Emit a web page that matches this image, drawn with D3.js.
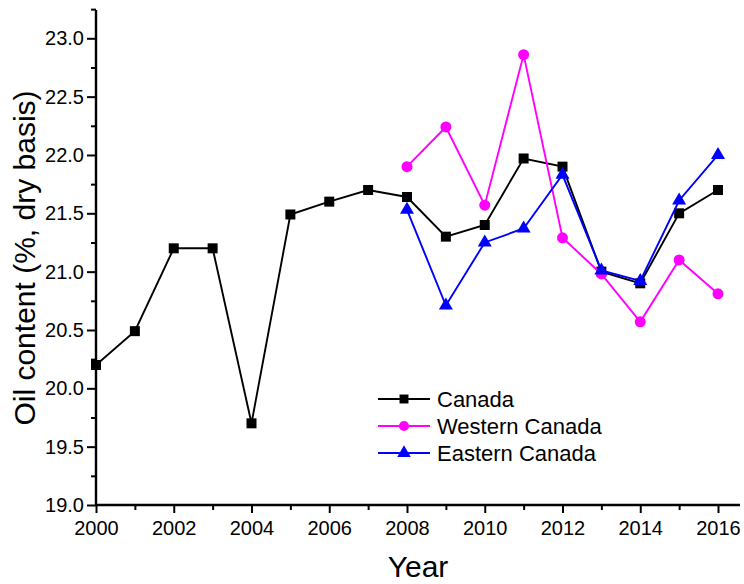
<!DOCTYPE html>
<html>
<head>
<meta charset="utf-8">
<script src="https://cdn.jsdelivr.net/npm/d3@7"></script>
<style>
  html, body { margin: 0; padding: 0; background: #fff; }
  svg { display: block; font-family: "Liberation Sans", Arial, sans-serif; }
</style>
</head>
<body>
<svg id="chart" width="744" height="584"></svg>
<script>
// Oil content by year, three regional series
const years = [2000, 2001, 2002, 2003, 2004, 2005, 2006, 2007, 2008, 2009, 2010, 2011, 2012, 2013, 2014, 2015, 2016];
const canada = [20.2, 20.49, 21.2, 21.2, 19.7, 21.49, 21.6, 21.7, 21.64, 21.3, 21.4, 21.97, 21.9, 21.0, 20.9, 21.5, 21.7];
const westernYears = [2008, 2009, 2010, 2011, 2012, 2013, 2014, 2015, 2016];
const western = [21.9, 22.24, 21.57, 22.86, 21.29, 20.98, 20.57, 21.1, 20.81];
const easternYears = [2008, 2009, 2010, 2011, 2012, 2013, 2014, 2015, 2016];
const eastern = [21.53, 20.71, 21.25, 21.37, 21.83, 21.01, 20.92, 21.61, 22.0];
const xTickLabels = [2000, 2002, 2004, 2006, 2008, 2010, 2012, 2014, 2016];
const yTickLabels = [19.0, 19.5, 20.0, 20.5, 21.0, 21.5, 22.0, 22.5, 23.0];

const svg = d3.select("#chart");
const left = 96, bottom = 505;
const FONT = "Liberation Sans, Arial, sans-serif";

const x = d3.scaleLinear().domain([2000, 2016]).range([left, 718]);
const y = d3.scaleLinear().domain([19, 23]).range([bottom, 38.3]);

// Axes (left & bottom), extended past the last tick
const xEnd = 740, yTop = 10;

const gx = svg.append("g").attr("transform", `translate(0,${bottom})`);
gx.call(d3.axisBottom(x).tickValues(d3.range(2001, 2017, 2)).tickSize(5).tickFormat(""));
gx.call(g => g.select(".domain").remove());
const gxMajor = svg.append("g").attr("transform", `translate(0,${bottom})`)
  .call(d3.axisBottom(x).tickValues(xTickLabels).tickSize(8).tickPadding(8).tickFormat(d3.format("d")));
gxMajor.select(".domain").remove();
gxMajor.selectAll("text").attr("font-size", 20).attr("fill", "#000").attr("font-family", FONT);

const gy = svg.append("g").attr("transform", `translate(${left},0)`);
gy.call(d3.axisLeft(y).tickValues(d3.range(19.25, 23.3, 0.5)).tickSize(5).tickFormat(""));
gy.select(".domain").remove();
const gyMajor = svg.append("g").attr("transform", `translate(${left},0)`)
  .call(d3.axisLeft(y).tickValues(yTickLabels).tickSize(9).tickPadding(3).tickFormat(d3.format(".1f")));
gyMajor.select(".domain").remove();
gyMajor.selectAll("text").attr("font-size", 20).attr("fill", "#000").attr("font-family", FONT);

svg.selectAll(".tick line").attr("stroke", "#000").attr("stroke-width", 2);

svg.append("line").attr("x1", left).attr("x2", xEnd).attr("y1", bottom).attr("y2", bottom)
  .attr("stroke", "#000").attr("stroke-width", 2.4);
svg.append("line").attr("x1", left).attr("x2", left).attr("y1", yTop).attr("y2", bottom)
  .attr("stroke", "#000").attr("stroke-width", 2.4);

// Axis titles
svg.append("text").attr("x", 418).attr("y", 577).attr("text-anchor", "middle")
  .attr("font-size", 30).attr("fill", "#000").text("Year");
svg.append("text").attr("transform", "translate(35,258) rotate(-90)").attr("text-anchor", "middle")
  .attr("font-size", 30).attr("fill", "#000").text("Oil content (%, dry basis)");

// Series
const series = [
  { name: "Canada", xs: years, ys: canada, color: "#000000", shape: d3.symbolSquare, size: 100 },
  { name: "Western Canada", xs: westernYears, ys: western, color: "#ff00ff", shape: d3.symbolCircle, size: 95 },
  { name: "Eastern Canada", xs: easternYears, ys: eastern, color: "#0000ff", shape: d3.symbolTriangle, size: 85 }
];

const line = d3.line().x(d => x(d[0])).y(d => y(d[1]));

series.forEach(s => {
  const pts = s.xs.map((yr, i) => [yr, s.ys[i]]);
  svg.append("path").datum(pts).attr("d", line)
    .attr("fill", "none").attr("stroke", s.color).attr("stroke-width", 1.9);
  svg.append("g").selectAll("path").data(pts).join("path")
    .attr("transform", d => `translate(${x(d[0])},${y(d[1])})`)
    .attr("d", d3.symbol().type(s.shape).size(s.size))
    .attr("fill", s.color);
});

// Legend
const legend = svg.append("g");
series.forEach((s, i) => {
  const ly = 399 + i * 27;
  legend.append("line").attr("x1", 378).attr("x2", 430).attr("y1", ly).attr("y2", ly)
    .attr("stroke", s.color).attr("stroke-width", 1.9);
  legend.append("path").attr("transform", `translate(404,${ly})`)
    .attr("d", d3.symbol().type(s.shape).size(80)).attr("fill", s.color);
  legend.append("text").attr("x", 437).attr("y", ly + 8)
    .attr("font-size", 22).attr("fill", "#000").text(s.name);
});
</script>
</body>
</html>
